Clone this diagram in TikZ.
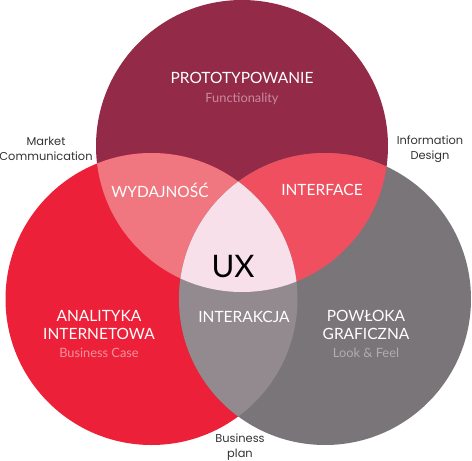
\documentclass[tikz,border=0pt]{standalone}
\usepackage{fontspec}
\setmainfont{Lato}
\newfontfamily\sidefont{Poppins}
\definecolor{protored}{HTML}{932A48}
\definecolor{analred}{HTML}{EC2139}
\definecolor{shellgray}{HTML}{7A7579}
\definecolor{effpink}{HTML}{F0767F}
\definecolor{facered}{HTML}{EF4F5F}
\definecolor{actgray}{HTML}{928A8F}
\definecolor{uxpink}{HTML}{F8E0EA}
\definecolor{sidetext}{HTML}{333333}
\definecolor{protosub}{HTML}{C98A9E}
\definecolor{analsub}{HTML}{F6919C}
\definecolor{shellsub}{HTML}{B3ACB0}
\begin{document}
\begin{tikzpicture}[x=1pt,y=-1pt,
    title/.style={text=white,align=center,font=\fontsize{15.5}{18}\selectfont},
    side/.style={text=sidetext,align=center,font=\sidefont\fontsize{11.4}{15}\selectfont}]
  \useasboundingbox (0,0) rectangle (472,461);
  % circle centres
  \coordinate (ctop) at (242,146);
  \coordinate (cleft) at (151.5,299);
  \coordinate (cright) at (325,299);
  % the three circles
  \fill[protored] (ctop) circle (146pt);
  \fill[analred] (cleft) circle (146pt);
  \fill[shellgray] (cright) circle (146pt);
  % overlaps
  \begin{scope}
    \clip (ctop) circle (146pt);
    \fill[effpink] (cleft) circle (146pt);
  \end{scope}
  \begin{scope}
    \clip (ctop) circle (146pt);
    \fill[facered] (cright) circle (146pt);
  \end{scope}
  \begin{scope}
    \clip (cleft) circle (146pt);
    \fill[actgray] (cright) circle (146pt);
  \end{scope}
  \begin{scope}
    \clip (ctop) circle (146pt);
    \clip (cleft) circle (146pt);
    \fill[uxpink] (cright) circle (146pt);
  \end{scope}
  % labels
  \node[title] (proto) at (242,88) {PROTOTYPOWANIE\\[1pt]
    \textcolor{protosub}{\fontsize{12.8}{14}\selectfont Functionality}};
  \node[title] (eff) at (160,190) {WYDAJNOŚĆ};
  \node[title] (face) at (322,190) {INTERFACE};
  \node[font=\fontsize{31}{36}\selectfont] (ux) at (233,267) {UX};
  \node[title] (anal) at (99,334) {ANALITYKA\\INTERNETOWA\\
    \textcolor{analsub}{\fontsize{12.8}{14}\selectfont Business Case}};
  \node[title] (act) at (244,317) {INTERAKCJA};
  \node[title] (shell) at (366,334) {POWŁOKA\\GRAFICZNA\\
    \textcolor{shellsub}{\fontsize{12.8}{14}\selectfont Look \& Feel}};
  \node[side] (market) at (46,149) {Market\\Communication};
  \node[side] (info) at (430,149) {Information\\Design};
  \node[side] (plan) at (240,447) {Business\\plan};
\end{tikzpicture}
\end{document}
